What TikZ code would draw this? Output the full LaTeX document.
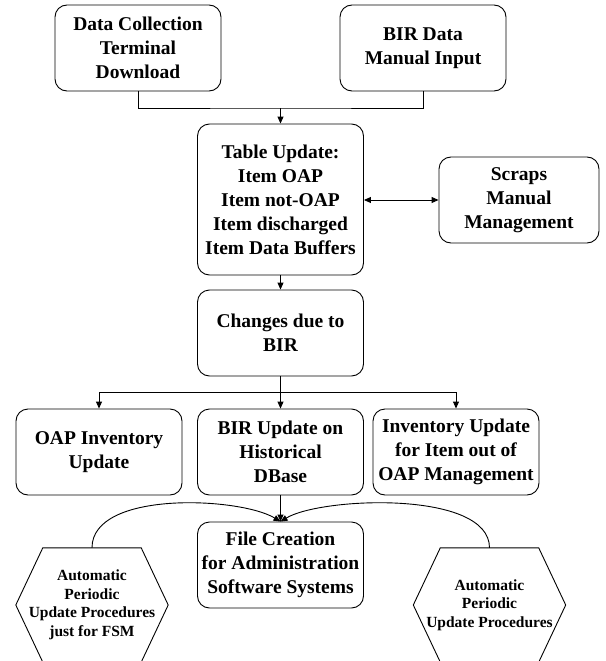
\documentclass[tikz,border=0pt]{standalone}
\usepackage{fontspec}
\setmainfont{Liberation Serif}
\usetikzlibrary{arrows.meta}
\begin{document}
\begin{tikzpicture}[x=1pt,y=-1pt,
  box/.style={draw, line width=0.9pt, rounded corners=12pt, align=center,
    minimum width=166pt, minimum height=86pt, inner sep=0pt,
    font=\bfseries\fontsize{19.5}{24}\selectfont},
  hexbox/.style={minimum width=152pt, minimum height=114pt, inner sep=0pt,
    align=center, font=\bfseries\fontsize{15.5}{18.5}\selectfont},
  link/.style={line width=0.9pt},
  arr/.style={link, -{Triangle[length=7pt,width=6pt]}},
  darr/.style={link, {Triangle[length=7pt,width=6pt]}-{Triangle[length=7pt,width=6pt]}}]
\useasboundingbox (0,0) rectangle (605,661);

% boxes
\node[box] (dct) at (138,48) {Data Collection\\Terminal\\Download};
\node[box] (bir) at (423,48) {BIR Data\\Manual Input};
\node[box, minimum height=151pt] (tab) at (280.5,199.5)
  {Table Update:\\Item OAP\\Item not-OAP\\Item discharged\\Item Data Buffers};
\node[box, minimum width=160pt] (scr) at (519,200) {Scraps\\Manual\\Management};
\node[box] (chg) at (280.5,333) {Changes due to\\BIR};
\node[box] (oap) at (99,452) {OAP Inventory\\Update};
\node[box] (his) at (280.5,452) {BIR Update on\\Historical\\DBase};
\node[box] (out) at (456,452) {Inventory Update\\for Item out of\\OAP Management};
\node[box] (fil) at (280.5,565) {File Creation\\for Administration\\Software Systems};
\node[hexbox] (hxl) at (92,605) {Automatic\\Periodic\\Update Procedures\\just for FSM};
\node[hexbox] (hxr) at (489.5,605) {Automatic\\Periodic\\Update Procedures};

% hexagon outlines
\foreach \h in {hxl,hxr}
  \draw[link, line join=miter] (\h.west) -- ([xshift=27pt]\h.north west)
    -- ([xshift=-27pt]\h.north east) -- (\h.east)
    -- ([xshift=-27pt]\h.south east) -- ([xshift=27pt]\h.south west) -- cycle;

% merging the two inputs
\coordinate (bus) at (tab.north |- 0,108);
\draw[link] (dct.south) |- (bus) -| (bir.south);
\draw[arr] (bus) -- (tab.north);

% scraps exchange
\draw[darr] (tab.east |- scr.west) -- (scr.west);

\draw[arr] (tab.south) -- (chg.north);

% branching to the three updates
\coordinate (split) at (chg.south |- 0,392);
\draw[link] (chg.south) -- (split);
\draw[arr] (split) -- (his.north);
\draw[arr] (split) -| (oap.north);
\draw[arr] (split) -| (out.north);

% feeding the file creation
\draw[arr] (his.south) -- (fil.north);
\draw[arr] (hxl.north) .. controls (92,490) and (240,497) .. (fil.north);
\draw[arr] (hxr.north) .. controls (489.5,490) and (321,497) .. (fil.north);
\end{tikzpicture}
\end{document}
